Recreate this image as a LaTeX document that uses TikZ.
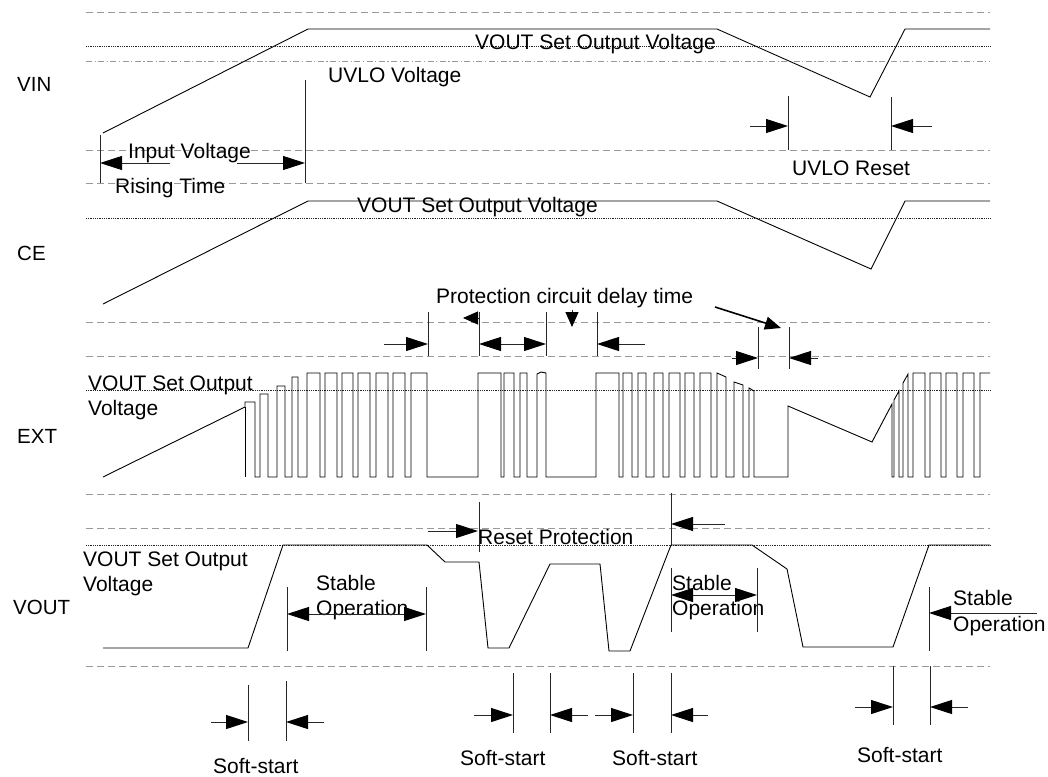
\documentclass[tikz,border=0pt]{standalone}
\usepackage{fontspec}
\setmainfont{Liberation Sans}
\usetikzlibrary{arrows.meta}
\begin{document}
\begin{tikzpicture}[x=1pt,y=-1pt,
  gridline/.style={draw=gray!80, line width=0.9pt, dash pattern=on 7pt off 4pt},
  fineline/.style={draw=black!85, line width=0.7pt, dash pattern=on 1pt off 0.8pt},
  dashdotline/.style={draw=gray!80, line width=0.9pt, dash pattern=on 6pt off 2.5pt on 1.2pt off 2.5pt},
  wave/.style={draw=black, line width=0.9pt, line join=miter},
  tickline/.style={draw=black!85, line width=1pt},
  tipA/.tip={Triangle[length=22pt,width=14pt,color=black,fill=black]},
  arr/.style={tickline, -tipA},
  darr/.style={tickline, tipA-tipA},
  sarr/.style={tickline, -{Triangle[length=15pt,width=13pt,color=black,fill=black]}},
  lbl/.style={anchor=base west, inner sep=0pt, font=\fontsize{21}{25}\selectfont},
  side/.style={anchor=base west, inner sep=0pt, font=\fontsize{20.5}{24}\selectfont}]
\useasboundingbox (0,0) rectangle (1048,776);
\fill[white] (0,0) rectangle (1048,776);

% ---- guide lines ----
\foreach \yy in {12,150,183,322,356,494,528,666}
  \draw[gridline] (86,\yy) -- (990,\yy);
\foreach \yy in {46,218,390,545}
  \draw[fineline] (86,\yy) -- (990,\yy);
\draw[dashdotline] (86,61) -- (990,61);

% ---- side labels ----
\node[side] (lvin) at (17,91) {VIN};
\node[side] (lce) at (17,260) {CE};
\node[side] (lext) at (17,443) {EXT};
\node[side] (lvout) at (13,614) {VOUT};

% ---- VIN ----
\draw[wave] (103,133) -- (308,29) -- (717,29) -- (870,97) -- (905,29) -- (990,29);
\node[lbl] (vinset) at (475,49) {VOUT Set Output Voltage};
\node[lbl] (uvlo) at (328,82) {UVLO Voltage};
\node[lbl] (inv) at (128,158) {Input Voltage};
\node[lbl] (rise) at (115,193) {Rising Time};
\draw[tickline] (100,135) -- (100,183);
\draw[tickline] (305,80) -- (305,183);
\draw[arr] (170,163) -- (100,163);
\draw[arr] (237,163) -- (305,163);
\node[lbl] (uvlor) at (792,175) {UVLO Reset};
\draw[tickline] (788,96) -- (788,150);
\draw[tickline] (891,97) -- (891,150);
\draw[arr] (750,126) -- (788,126);
\draw[arr] (932,126) -- (891,126);

% ---- CE ----
\draw[wave] (103,304) -- (308,201) -- (717,201) -- (871,269) -- (905,201) -- (990,201);
\node[lbl] (ceset) at (357,212) {VOUT Set Output Voltage};
\node[lbl] (prot) at (436,303) {Protection circuit delay time};
\foreach \xx in {428,479,546,597}
  \draw[tickline] (\xx,312) -- (\xx,356);
\draw[arr] (384,344) -- (428,344);
\draw[sarr] (479,318) -- (463,318);
\draw[darr] (479,344) -- (546,344);
\draw[sarr] (572,310) -- (572,327);
\draw[arr] (645,344) -- (597,344);
\draw[draw=black, line width=1.6pt, -{Triangle[length=16pt,width=13pt]}] (715,307) -- (781,328);
\draw[tickline] (758,327) -- (758,369);
\draw[tickline] (789,327) -- (789,369);
\draw[arr] (732,358) -- (758,358);
\draw[arr] (818,358) -- (789,358);

% ---- EXT ----
\node[lbl] (extset) at (88,390) {VOUT Set Output};
\node[lbl] (extvolt) at (88,415) {Voltage};
\draw[wave] (245,407) -- (245,477);
\draw[wave] (103,477) -- (245,407) -- (245,402) -- (255,402) -- (255,477) -- (260,477) -- (260,394) -- (268,394) -- (268,477) -- (277,477) -- (277,386) -- (285,386) -- (285,477) -- (292,477) -- (292,377) -- (298,377) -- (298,477) -- (307,477) -- (307,373) -- (320,373) -- (320,477) -- (325,477) -- (325,373) -- (337,373) -- (337,477) -- (342,477) -- (342,373) -- (353,373) -- (353,477) -- (358,477) -- (358,373) -- (370,373) -- (370,477) -- (376,477) -- (376,373) -- (388,373) -- (388,477) -- (393,477) -- (393,373) -- (405,373) -- (405,477) -- (411,477) -- (411,373) -- (427,373) -- (427,477) -- (478,477) -- (478,373) -- (501,373) -- (501,477) -- (504,477) -- (504,373) -- (514,373) -- (514,477) -- (520,477) -- (520,373) -- (527,373) -- (527,477) -- (537,477) -- (537,374) -- (541,372) -- (546,373) -- (546,477) -- (596,477) -- (596,373) -- (619,373) -- (619,477) -- (623,477) -- (623,373) -- (632,373) -- (632,477) -- (638,477) -- (638,373) -- (646,373) -- (646,477) -- (654,477) -- (654,373) -- (663,373) -- (663,477) -- (669,477) -- (669,373) -- (680,373) -- (680,477) -- (685,477) -- (685,373) -- (694,373) -- (694,477) -- (700,477) -- (700,373) -- (711,373) -- (711,477) -- (717,477) -- (717,373) -- (726,377) -- (726,477) -- (734,477) -- (734,382) -- (743,385) -- (743,477) -- (749,477) -- (749,388) -- (754,391) -- (754,477) -- (788,477) -- (788,406) -- (872,442) -- (892,404) -- (892,477) -- (894,477) -- (894,400) -- (899,391) -- (899,477) -- (903,477) -- (903,383) -- (908,374) -- (908,477) -- (913,477) -- (913,373) -- (925,373) -- (925,477) -- (930,477) -- (930,373) -- (941,373) -- (941,477) -- (946,477) -- (946,373) -- (957,373) -- (957,477) -- (963,477) -- (963,373) -- (974,373) -- (974,477) -- (980,477) -- (980,373) -- (990,373);

% ---- VOUT ----
\draw[wave] (103,648) -- (248,648) -- (283,545) -- (427,545) -- (445,562) -- (479,562) -- (488,648) -- (509,648) -- (550,564) -- (600,564) -- (609,651) -- (630,651) -- (671,545) -- (752,545) -- (787,569) -- (803,647) -- (893,647) -- (929,545) -- (990,545);
\node[lbl] (voset) at (83,566) {VOUT Set Output};
\node[lbl] (vovolt) at (83,591) {Voltage};
% reset protection
\node[lbl] (reset) at (478,544) {Reset Protection};
\draw[arr] (428,531) -- (478,531);
\draw[tickline] (479,502) -- (479,552);
\draw[tickline] (671,493) -- (671,545);
\draw[arr] (725,524) -- (671,524);
% stable operation 1
\node[lbl] (st1) at (316,590) {Stable};
\node[lbl] (op1) at (316,615) {Operation};
\draw[tickline] (287,587) -- (287,651);
\draw[tickline] (426,587) -- (426,651);
\draw[darr] (287,614) -- (426,614);
% stable operation 2
\node[lbl] (st2) at (672,590) {Stable};
\node[lbl] (op2) at (672,615) {Operation};
\draw[tickline] (671,568) -- (671,632);
\draw[tickline] (757,568) -- (757,632);
\draw[darr] (671,595) -- (757,595);
% stable operation 3
\node[lbl] (st3) at (953,605) {Stable};
\node[lbl] (op3) at (953,631) {Operation};
\draw[tickline] (929,587) -- (929,651);
\draw[arr] (1037,613) -- (929,613);
% soft-start 1
\node[lbl] (ss1) at (213,773) {Soft-start};
\draw[tickline] (248,685) -- (248,741);
\draw[tickline] (286,681) -- (286,741);
\draw[arr] (211,722) -- (248,722);
\draw[arr] (324,722) -- (286,722);
% soft-start 2
\node[lbl] (ss2) at (460,765) {Soft-start};
\draw[tickline] (513,673) -- (513,733);
\draw[tickline] (550,673) -- (550,733);
\draw[arr] (474,715) -- (513,715);
\draw[arr] (588,715) -- (550,715);
% soft-start 3
\node[lbl] (ss3) at (612,765) {Soft-start};
\draw[tickline] (633,673) -- (633,733);
\draw[tickline] (671,673) -- (671,733);
\draw[arr] (595,715) -- (633,715);
\draw[arr] (708,715) -- (671,715);
% soft-start 4
\node[lbl] (ss4) at (857,762) {Soft-start};
\draw[tickline] (893,666) -- (893,725);
\draw[tickline] (930,666) -- (930,725);
\draw[arr] (855,707) -- (893,707);
\draw[arr] (968,707) -- (930,707);
\end{tikzpicture}
\end{document}
